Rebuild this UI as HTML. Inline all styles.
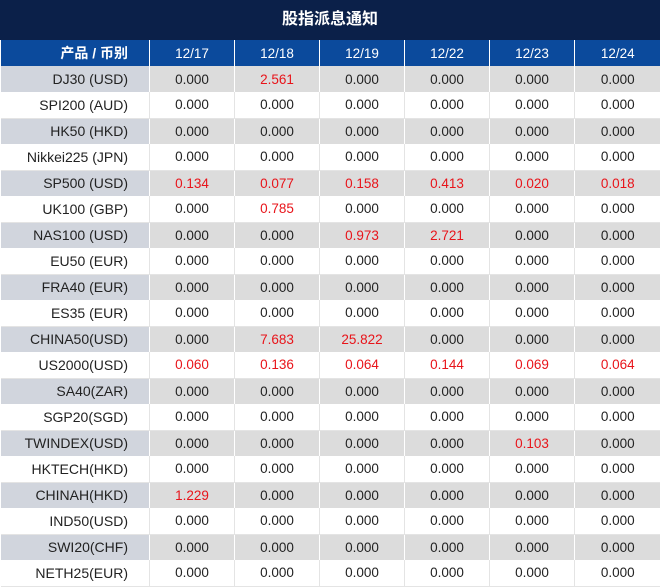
<!DOCTYPE html>
<html><head><meta charset="utf-8"><style>
body{margin:0;width:660px;height:587px;overflow:hidden;background:#fff;font-family:"Liberation Sans","Noto Sans CJK SC",sans-serif}
.t{position:absolute;left:0;top:0;width:660px;height:40px;background:#0b2049;color:#fff;font-size:16px;font-weight:bold;text-align:center;line-height:40px}
table{position:absolute;left:0;top:40px;border-collapse:collapse;table-layout:fixed;width:660px}
td{height:26px;padding:0;text-align:center;font-size:13.5px;color:#222;border-left:1px solid #e4e4e4;border-bottom:1px solid #e4e4e4;box-sizing:border-box}
tr.h td{background:#0b4a9c;color:#fff;border-left:1px solid #fff;border-bottom:none}
tr.h td:first-child{font-weight:bold}
td:first-child{text-align:right;padding-right:21px;border-left:none;font-size:14px}
tr.g td{background:#dcdcdc;border-left:1px solid #fff;border-bottom:none}
tr.g td:first-child{background:#d1d5dd;border-left:none}
.r{color:#e8141a}
</style></head><body>
<div class="t">股指派息通知</div>
<table>
<colgroup><col style="width:149px"><col style="width:85px"><col style="width:85px"><col style="width:85px"><col style="width:85px"><col style="width:85px"><col style="width:86px"></colgroup>
<tr class="h"><td>产品 / 币别</td><td>12/17</td><td>12/18</td><td>12/19</td><td>12/22</td><td>12/23</td><td>12/24</td></tr>
<tr class="g"><td>DJ30 (USD)</td><td>0.000</td><td class="r">2.561</td><td>0.000</td><td>0.000</td><td>0.000</td><td>0.000</td></tr>
<tr><td>SPI200 (AUD)</td><td>0.000</td><td>0.000</td><td>0.000</td><td>0.000</td><td>0.000</td><td>0.000</td></tr>
<tr class="g"><td>HK50 (HKD)</td><td>0.000</td><td>0.000</td><td>0.000</td><td>0.000</td><td>0.000</td><td>0.000</td></tr>
<tr><td>Nikkei225 (JPN)</td><td>0.000</td><td>0.000</td><td>0.000</td><td>0.000</td><td>0.000</td><td>0.000</td></tr>
<tr class="g"><td>SP500 (USD)</td><td class="r">0.134</td><td class="r">0.077</td><td class="r">0.158</td><td class="r">0.413</td><td class="r">0.020</td><td class="r">0.018</td></tr>
<tr><td>UK100 (GBP)</td><td>0.000</td><td class="r">0.785</td><td>0.000</td><td>0.000</td><td>0.000</td><td>0.000</td></tr>
<tr class="g"><td>NAS100 (USD)</td><td>0.000</td><td>0.000</td><td class="r">0.973</td><td class="r">2.721</td><td>0.000</td><td>0.000</td></tr>
<tr><td>EU50 (EUR)</td><td>0.000</td><td>0.000</td><td>0.000</td><td>0.000</td><td>0.000</td><td>0.000</td></tr>
<tr class="g"><td>FRA40 (EUR)</td><td>0.000</td><td>0.000</td><td>0.000</td><td>0.000</td><td>0.000</td><td>0.000</td></tr>
<tr><td>ES35 (EUR)</td><td>0.000</td><td>0.000</td><td>0.000</td><td>0.000</td><td>0.000</td><td>0.000</td></tr>
<tr class="g"><td>CHINA50(USD)</td><td>0.000</td><td class="r">7.683</td><td class="r">25.822</td><td>0.000</td><td>0.000</td><td>0.000</td></tr>
<tr><td>US2000(USD)</td><td class="r">0.060</td><td class="r">0.136</td><td class="r">0.064</td><td class="r">0.144</td><td class="r">0.069</td><td class="r">0.064</td></tr>
<tr class="g"><td>SA40(ZAR)</td><td>0.000</td><td>0.000</td><td>0.000</td><td>0.000</td><td>0.000</td><td>0.000</td></tr>
<tr><td>SGP20(SGD)</td><td>0.000</td><td>0.000</td><td>0.000</td><td>0.000</td><td>0.000</td><td>0.000</td></tr>
<tr class="g"><td>TWINDEX(USD)</td><td>0.000</td><td>0.000</td><td>0.000</td><td>0.000</td><td class="r">0.103</td><td>0.000</td></tr>
<tr><td>HKTECH(HKD)</td><td>0.000</td><td>0.000</td><td>0.000</td><td>0.000</td><td>0.000</td><td>0.000</td></tr>
<tr class="g"><td>CHINAH(HKD)</td><td class="r">1.229</td><td>0.000</td><td>0.000</td><td>0.000</td><td>0.000</td><td>0.000</td></tr>
<tr><td>IND50(USD)</td><td>0.000</td><td>0.000</td><td>0.000</td><td>0.000</td><td>0.000</td><td>0.000</td></tr>
<tr class="g"><td>SWI20(CHF)</td><td>0.000</td><td>0.000</td><td>0.000</td><td>0.000</td><td>0.000</td><td>0.000</td></tr>
<tr><td>NETH25(EUR)</td><td>0.000</td><td>0.000</td><td>0.000</td><td>0.000</td><td>0.000</td><td>0.000</td></tr>
</table>
</body></html>
